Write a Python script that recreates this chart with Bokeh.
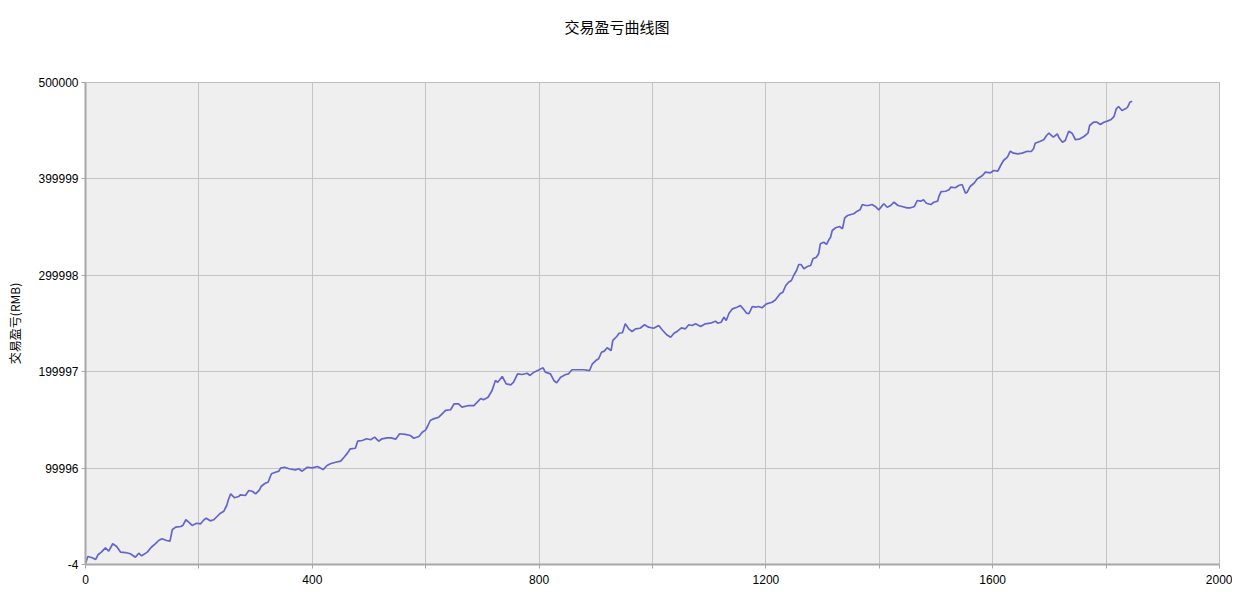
from bokeh.plotting import figure
from bokeh.models import FixedTicker, Range1d, Title
from bokeh.embed import file_html
from bokeh.resources import INLINE

title_text = "交易盈亏曲线图"
y_label = "交易盈亏(RMB)"

# trade index
xs = [0, 4, 12, 18, 22, 28, 35, 41, 48, 55, 62, 71, 79, 88, 94, 99, 109, 116, 123, 129,
      135, 143, 149, 153, 159, 168, 172, 177, 182, 188, 196, 203, 209, 213, 220, 226, 232, 238, 244, 249,
      252, 256, 263, 270, 273, 282, 288, 294, 300, 307, 310, 317, 322, 328, 335, 341, 344, 351, 359, 370,
      376, 382, 391, 400, 409, 419, 426, 432, 441, 450, 456, 462, 467, 476, 480, 488, 496, 503, 510, 517,
      523, 532, 539, 547, 554, 564, 573, 579, 588, 594, 600, 604, 608, 614, 623, 629, 635, 644, 650, 658,
      664, 676, 685, 691, 697, 702, 710, 717, 723, 727, 735, 742, 750, 755, 762, 770, 779, 784, 791, 800,
      807, 811, 820, 826, 831, 838, 847, 852, 858, 867, 879, 889, 894, 900, 905, 910, 915, 920, 927, 930,
      937, 941, 947, 952, 958, 964, 970, 978, 986, 993, 1002, 1011, 1017, 1025, 1032, 1038, 1044, 1051, 1058, 1064,
      1070, 1076, 1085, 1093, 1102, 1111, 1115, 1121, 1126, 1130, 1135, 1141, 1149, 1155, 1160, 1166, 1170, 1176, 1182, 1187,
      1193, 1201, 1211, 1217, 1225, 1230, 1235, 1240, 1245, 1249, 1254, 1258, 1262, 1267, 1273, 1279, 1283, 1289, 1293, 1296,
      1302, 1307, 1311, 1314, 1317, 1323, 1330, 1335, 1339, 1344, 1350, 1355, 1361, 1366, 1370, 1376, 1381, 1387, 1393, 1399,
      1408, 1414, 1420, 1426, 1433, 1440, 1449, 1455, 1462, 1467, 1473, 1478, 1483, 1491, 1496, 1503, 1505, 1509, 1517, 1523,
      1526, 1534, 1540, 1546, 1552, 1555, 1560, 1567, 1573, 1582, 1587, 1596, 1602, 1609, 1614, 1619, 1626, 1631, 1637, 1644,
      1652, 1661, 1668, 1672, 1675, 1684, 1690, 1695, 1699, 1707, 1714, 1717, 1723, 1728, 1734, 1740, 1746, 1754, 1761, 1768,
      1771, 1778, 1784, 1790, 1796, 1802, 1808, 1814, 1818, 1822, 1828, 1834, 1838, 1842, 1846]

# cumulative profit / loss (RMB)
ys = [1000, 8300, 6950, 5200, 10100, 12800, 17300, 13800, 21500, 18700, 12800, 12400, 11100, 7600, 11700, 9000, 12800, 17900, 21500, 24900,
      26700, 24900, 24200, 36000, 38700, 39400, 40800, 46400, 43900, 40500, 42800, 42200, 46400, 48000, 45300, 46400, 49800, 53200, 55300, 61200,
      67100, 73300, 69200, 70500, 72300, 71600, 76800, 76000, 73300, 77500, 81200, 84300, 85400, 94100, 95700, 96800, 99900, 100900, 99300, 98200,
      99300, 96800, 100900, 100300, 101700, 98500, 102700, 104500, 106100, 107200, 111300, 115500, 120000, 120600, 127900, 128600, 130400, 129400, 132100, 127900,
      130400, 131400, 131400, 130000, 135600, 134900, 133800, 131000, 132800, 137200, 139700, 144200, 149400, 151100, 152800, 156300, 159800, 160500, 166700, 166700,
      163200, 164900, 164900, 168400, 172200, 170900, 173500, 180500, 190900, 189100, 195000, 187400, 186400, 189100, 197800, 197100, 198400, 196100, 199500, 202000,
      204000, 199500, 197800, 190900, 188500, 194300, 197100, 197800, 202000, 202000, 202000, 201200, 208200, 211600, 213400, 220200, 221300, 224800, 222000, 232400,
      236500, 239900, 240400, 249700, 244500, 241700, 244500, 245100, 248700, 246200, 245100, 247900, 243500, 238300, 235800, 239900, 242000, 245500, 244500, 248700,
      247900, 249700, 246900, 249700, 250300, 252400, 250300, 251300, 256500, 253100, 260700, 265200, 266900, 268700, 265200, 260700, 260100, 267600, 266900, 267600,
      266300, 270400, 272100, 274600, 280800, 282500, 289400, 292800, 294600, 299800, 305000, 311200, 311200, 306700, 309100, 310200, 317100, 318800, 322300, 332700,
      334300, 332000, 336800, 339500, 346500, 349300, 350600, 348200, 359600, 362000, 363100, 363800, 366500, 367900, 373400, 372400, 372400, 373400, 371400, 367900,
      374200, 370600, 372400, 375800, 372400, 371400, 370000, 370000, 371400, 377600, 376900, 378300, 374800, 373400, 375800, 376900, 381700, 386900, 387200, 388700,
      391400, 390800, 393200, 394200, 385200, 386200, 392100, 395500, 400100, 403500, 407000, 406300, 408700, 408000, 413900, 419100, 422500, 428700, 426700, 426000,
      426700, 428700, 428400, 431200, 437000, 439100, 440600, 445000, 447400, 443300, 446800, 442600, 438100, 439800, 449500, 447400, 440600, 441600, 444000, 447400,
      455400, 458800, 458800, 456400, 458800, 459900, 461300, 464700, 472700, 475100, 471000, 472700, 474400, 479600, 480600]

x_ticks = [0, 200, 400, 600, 800, 1000, 1200, 1400, 1600, 1800, 2000]
x_tick_labels = ["0", "", "400", "", "800", "", "1200", "", "1600", "", "2000"]
y_ticks = [-4, 99996.8, 199997.6, 299998.4, 399999.2, 500000]
y_tick_labels = ["-4", "99996", "199997", "299998", "399999", "500000"]

p = figure(width=1232, height=595, output_backend="svg", toolbar_location=None,
           title_location=None,
           x_range=Range1d(0, 2000), y_range=Range1d(-4, 500000),
           min_border_left=85, min_border_right=13, min_border_top=82, min_border_bottom=31)

# spacer panel between frame and title (nearest the frame)
spacer = Title(text=" ", text_font="Noto Sans CJK SC", text_font_size="14px", standoff=19)
p.add_layout(spacer, "above")
title = Title(text=title_text, align="left", offset=479, text_font="Noto Sans CJK SC",
              text_font_size="15px", text_font_style="normal", text_color="#000000",
              standoff=10)
p.add_layout(title, "above")

p.background_fill_color = "#efefef"
p.border_fill_color = "#ffffff"
p.outline_line_color = "#bdbdbd"

p.line(xs, ys, line_color="#6464cc", line_width=1.7)

p.xaxis.ticker = FixedTicker(ticks=x_ticks)
p.xaxis.major_label_overrides = {t: l for t, l in zip(x_ticks, x_tick_labels)}
p.yaxis.ticker = FixedTicker(ticks=y_ticks)
p.yaxis.major_label_overrides = {t: l for t, l in zip(y_ticks, y_tick_labels)}

for ax in (p.xaxis, p.yaxis):
    ax.axis_line_color = "#a8a8a8"
    ax.axis_line_width = 2
    ax.major_tick_line_color = "#a8a8a8"
    ax.major_tick_out = 4
    ax.major_tick_in = 0
    ax.minor_tick_out = 0
    ax.minor_tick_in = 0
    ax.major_label_text_font = "Liberation Sans"
    ax.major_label_text_font_size = "12px"
    ax.major_label_text_color = "#000000"
    ax.major_label_standoff = 3
p.xaxis.major_label_standoff = 6

p.yaxis.axis_label = y_label
p.yaxis.axis_label_text_font = "Noto Sans CJK SC"
p.yaxis.axis_label_text_font_size = "12px"
p.yaxis.axis_label_text_font_style = "normal"
p.yaxis.axis_label_text_color = "#000000"
p.yaxis.axis_label_standoff = 12

p.xgrid.grid_line_color = "#c4c4c4"
p.ygrid.grid_line_color = "#c4c4c4"
p.xgrid.grid_line_width = 1
p.ygrid.grid_line_width = 1

open("out.html", "w").write(file_html(p, INLINE))
